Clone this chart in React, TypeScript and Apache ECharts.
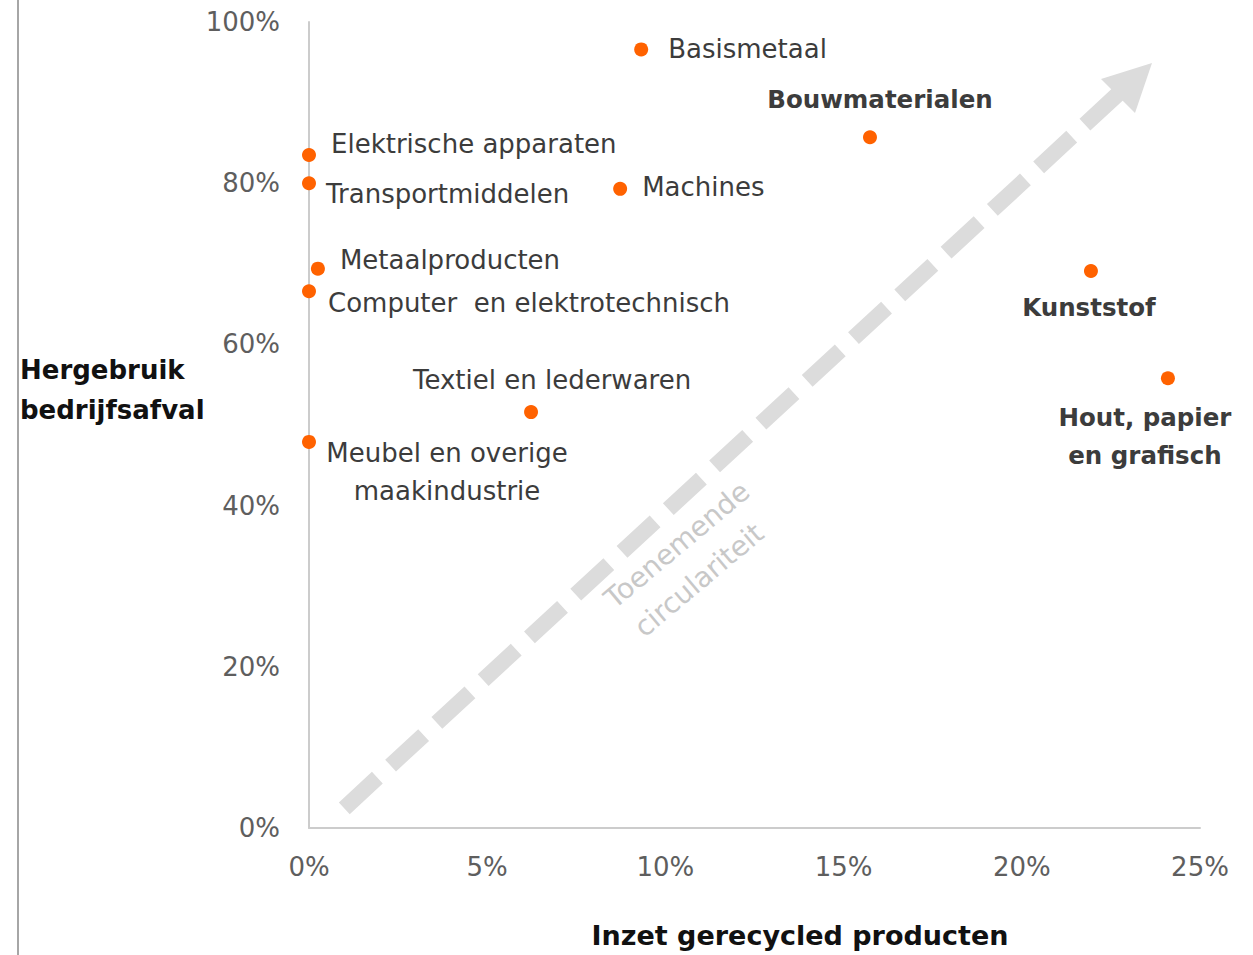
import React, { useEffect, useRef } from "react";
import * as echarts from "echarts";

const sectors = [
  "Basismetaal",
  "Bouwmaterialen",
  "Elektrische apparaten",
  "Transportmiddelen",
  "Machines",
  "Metaalproducten",
  "Computer  en elektrotechnisch",
  "Kunststof",
  "Hout, papier\nen grafisch",
  "Textiel en lederwaren",
  "Meubel en overige\nmaakindustrie",
];
const recycledInput = [9.32, 15.74, 0, 0, 8.73, 0.25, 0, 21.94, 24.1, 6.23, 0];
const wasteReuse = [96.6, 85.7, 83.5, 80.0, 79.3, 69.4, 66.6, 69.1, 55.8, 51.6, 47.9];
const xTicks = [0, 5, 10, 15, 20, 25];
const yTicks = [0, 20, 40, 60, 80, 100];

const FONT = "DejaVu Sans";
const ORANGE = "#ff6200";

// label placement (style only)
const labelStyles: any[] = [
  { align: "left", offset: [27, 0] },
  { align: "center", offset: [10, -38], bold: true },
  { align: "left", offset: [22, -11] },
  { align: "left", offset: [17, 11] },
  { align: "left", offset: [22, -2] },
  { align: "left", offset: [22, -9] },
  { align: "left", offset: [19, 12] },
  { align: "center", offset: [-2, 36], bold: true },
  { align: "center", offset: [-23, 58], bold: true },
  { align: "center", offset: [21, -32] },
  { align: "center", offset: [138, 30] },
];

export default function App() {
  const ref = useRef<HTMLDivElement>(null);
  useEffect(() => {
    if (!ref.current) return;
    const chart = echarts.init(ref.current, null, { renderer: "svg" });
    const data = sectors.map((name, i) => {
      const s = labelStyles[i];
      return {
        name,
        value: [recycledInput[i], wasteReuse[i]],
        label: {
          show: true,
          position: "inside",
          offset: s.offset,
          align: s.align,
          verticalAlign: "middle",
          fontFamily: FONT,
          fontSize: s.bold ? 24.5 : 26,
          fontWeight: s.bold ? "bold" : "normal",
          color: "#3c3c3c",
          lineHeight: 38,
          formatter: "{b}",
        },
      };
    });
    const rot = (40 * Math.PI) / 180;
    chart.setOption({
      animation: false,
      grid: { left: 309, right: 53, top: 22, bottom: 127, containLabel: false },
      xAxis: {
        type: "value",
        min: xTicks[0],
        max: xTicks[xTicks.length - 1],
        interval: 5,
        splitLine: { show: false },
        axisTick: { show: false },
        axisLine: { show: true, lineStyle: { color: "#cccccc", width: 2 } },
        axisLabel: {
          formatter: (v: number) => `${v}%`,
          fontFamily: FONT,
          fontSize: 26,
          color: "#5e5e5e",
          margin: 26,
        },
      },
      yAxis: {
        type: "value",
        min: yTicks[0],
        max: yTicks[yTicks.length - 1],
        interval: 20,
        splitLine: { show: false },
        axisTick: { show: false },
        axisLine: { show: true, lineStyle: { color: "#cccccc", width: 2 } },
        axisLabel: {
          formatter: (v: number) => `${v}%`,
          fontFamily: FONT,
          fontSize: 26,
          color: "#5e5e5e",
          margin: 29,
        },
      },
      graphic: [
        {
          type: "line",
          shape: { x1: 18, y1: 0, x2: 18, y2: 955 },
          style: { stroke: "#a6a6a6", lineWidth: 2 },
          silent: true,
        },
        {
          type: "line",
          shape: { x1: 1118, y1: 94, x2: 337, y2: 815 },
          style: { stroke: "#dcdcdc", lineWidth: 16, lineDash: [45, 18], lineCap: "butt" },
          silent: true,
          z: -1,
        },
        {
          type: "polygon",
          shape: { points: [[1152, 63], [1101, 79], [1135, 113]] },
          style: { fill: "#dcdcdc" },
          silent: true,
          z: -1,
        },
        {
          type: "text",
          x: 677,
          y: 545,
          rotation: rot,
          style: {
            text: "Toenemende",
            fontFamily: FONT,
            fontSize: 28,
            fill: "#c8c8c8",
            align: "center",
            verticalAlign: "middle",
          },
          silent: true,
        },
        {
          type: "text",
          x: 699,
          y: 580,
          rotation: rot,
          style: {
            text: "circulariteit",
            fontFamily: FONT,
            fontSize: 28,
            fill: "#c8c8c8",
            align: "center",
            verticalAlign: "middle",
          },
          silent: true,
        },
        {
          type: "text",
          x: 20,
          y: 390,
          style: {
            text: "Hergebruik\nbedrijfsafval",
            fontFamily: FONT,
            fontSize: 26,
            fontWeight: "bold",
            lineHeight: 40,
            fill: "#111111",
            align: "left",
            verticalAlign: "middle",
          },
        },
        {
          type: "text",
          x: 800,
          y: 935,
          style: {
            text: "Inzet gerecycled producten",
            fontFamily: FONT,
            fontSize: 27,
            fontWeight: "bold",
            fill: "#111111",
            align: "center",
            verticalAlign: "middle",
          },
        },
      ],
      series: [
        {
          type: "scatter",
          symbol: "circle",
          symbolSize: 14,
          itemStyle: { color: ORANGE, opacity: 1 },
          data,
          z: 3,
        },
      ],
    });
    return () => chart.dispose();
  }, []);
  return (
    <div
      ref={ref}
      style={{ position: "fixed", left: 0, top: 0, width: 1253, height: 955, background: "#fff" }}
    />
  );
}
